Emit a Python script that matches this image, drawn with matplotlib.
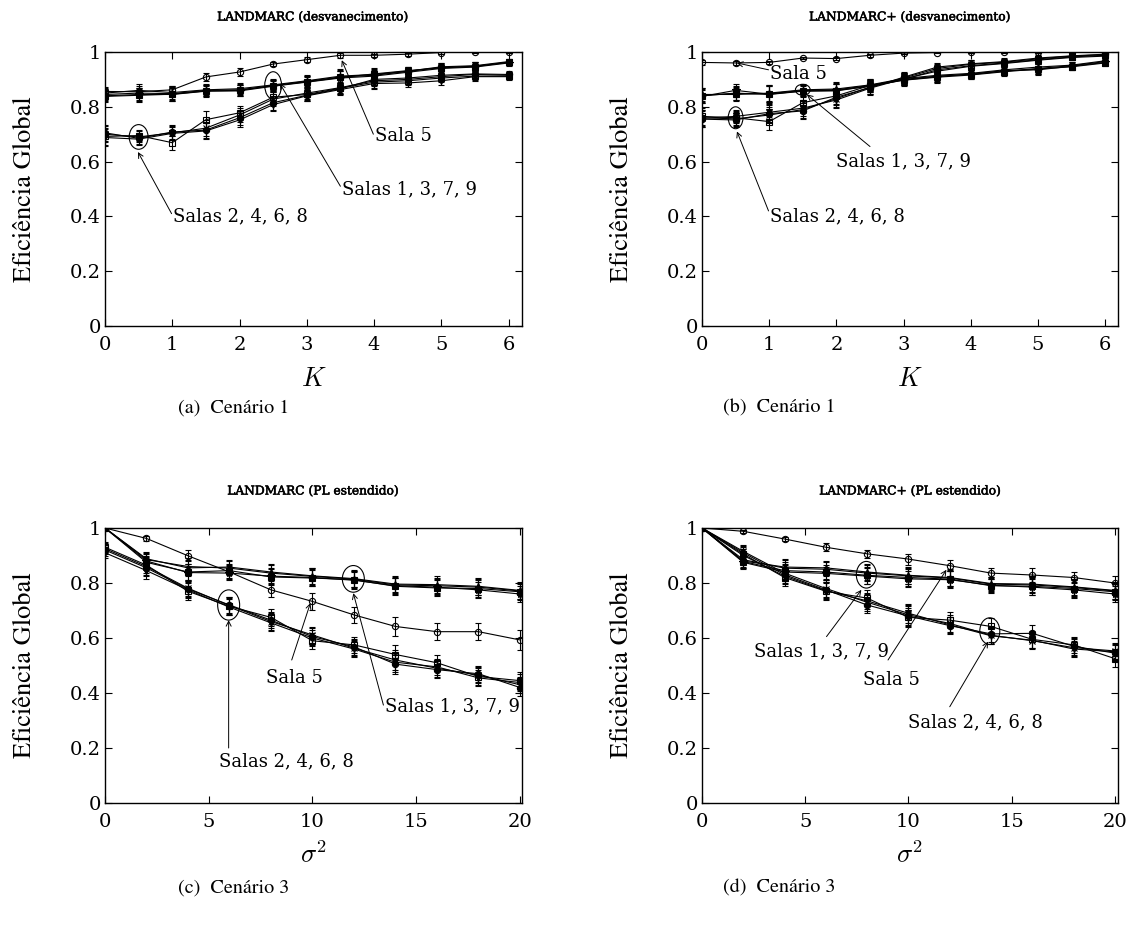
import matplotlib
matplotlib.use("Agg")
import matplotlib.pyplot as plt
from matplotlib.patches import Ellipse
import matplotlib.patheffects as pe

plt.rcParams["mathtext.fontset"] = "cm"
plt.rcParams["font.family"] = ["DejaVu Serif"]

# ---------------- data ----------------
K = [0, 0.5, 1, 1.5, 2, 2.5, 3, 3.5, 4, 4.5, 5, 5.5, 6]
sigma2 = [0, 2, 4, 6, 8, 10, 12, 14, 16, 18, 20]

# (a) LANDMARC, desvanecimento
a_centro = [0.856, 0.855, 0.862, 0.909, 0.927, 0.956, 0.972, 0.988, 0.988, 0.992, 0.998, 1.0, 1.0]
a_cantos = [
    [0.845, 0.850, 0.848, 0.860, 0.862, 0.878, 0.893, 0.909, 0.915, 0.929, 0.944, 0.948, 0.963],
    [0.840, 0.845, 0.845, 0.857, 0.858, 0.875, 0.890, 0.905, 0.912, 0.926, 0.940, 0.945, 0.960],
    [0.850, 0.860, 0.852, 0.862, 0.866, 0.880, 0.895, 0.912, 0.918, 0.930, 0.946, 0.950, 0.965],
    [0.838, 0.842, 0.846, 0.858, 0.860, 0.877, 0.891, 0.907, 0.920, 0.932, 0.942, 0.947, 0.962],
]
a_bordas = [
    [0.700, 0.690, 0.705, 0.722, 0.770, 0.828, 0.850, 0.870, 0.895, 0.900, 0.910, 0.918, 0.915],
    [0.692, 0.695, 0.669, 0.753, 0.778, 0.835, 0.845, 0.868, 0.890, 0.895, 0.905, 0.912, 0.912],
    [0.705, 0.685, 0.708, 0.715, 0.760, 0.815, 0.842, 0.866, 0.900, 0.905, 0.915, 0.920, 0.918],
    [0.688, 0.682, 0.703, 0.712, 0.752, 0.808, 0.840, 0.863, 0.885, 0.887, 0.895, 0.910, 0.910],
]
a_err_centro = [0.015, 0.010, 0.015, 0.015, 0.015, 0.008, 0.010, 0.010, 0.005, 0.005, 0.004, 0.003, 0.002]
a_err_cantos = [0.020, 0.025, 0.025, 0.020, 0.020, 0.020, 0.020, 0.025, 0.020, 0.015, 0.015, 0.015, 0.010]
a_err_bordas = [0.030, 0.020, 0.025, 0.030, 0.025, 0.025, 0.020, 0.020, 0.020, 0.015, 0.015, 0.015, 0.012]

# (b) LANDMARC+, desvanecimento
b_centro = [0.962, 0.960, 0.962, 0.978, 0.976, 0.988, 0.996, 0.998, 1.0, 0.999, 1.0, 1.0, 1.0]
b_cantos = [
    [0.842, 0.848, 0.848, 0.860, 0.862, 0.878, 0.900, 0.912, 0.918, 0.930, 0.940, 0.950, 0.965],
    [0.838, 0.860, 0.846, 0.858, 0.860, 0.875, 0.898, 0.910, 0.920, 0.932, 0.935, 0.948, 0.962],
    [0.845, 0.845, 0.850, 0.862, 0.865, 0.880, 0.903, 0.915, 0.922, 0.935, 0.945, 0.952, 0.968],
    [0.840, 0.850, 0.845, 0.857, 0.858, 0.876, 0.897, 0.908, 0.916, 0.928, 0.938, 0.946, 0.960],
]
b_bordas = [
    [0.760, 0.756, 0.770, 0.790, 0.830, 0.872, 0.905, 0.940, 0.955, 0.963, 0.975, 0.985, 0.990],
    [0.765, 0.760, 0.746, 0.815, 0.840, 0.878, 0.900, 0.935, 0.950, 0.960, 0.972, 0.982, 0.988],
    [0.755, 0.752, 0.775, 0.785, 0.835, 0.870, 0.908, 0.945, 0.957, 0.965, 0.978, 0.986, 0.992],
    [0.758, 0.765, 0.780, 0.795, 0.825, 0.868, 0.902, 0.930, 0.948, 0.958, 0.970, 0.980, 0.985],
]
b_err_centro = [0.008, 0.008, 0.005, 0.005, 0.005, 0.005, 0.004, 0.003, 0.002, 0.002, 0.002, 0.002, 0.002]
b_err_cantos = [0.025, 0.025, 0.030, 0.020, 0.025, 0.020, 0.020, 0.020, 0.015, 0.015, 0.020, 0.012, 0.010]
b_err_bordas = [0.030, 0.025, 0.030, 0.030, 0.030, 0.025, 0.020, 0.015, 0.015, 0.012, 0.012, 0.010, 0.010]

# (c) LANDMARC, PL estendido
c_centro = [1.0, 0.962, 0.899, 0.840, 0.775, 0.733, 0.684, 0.642, 0.623, 0.623, 0.593]
c_cantos = [
    [1.0, 0.885, 0.860, 0.854, 0.836, 0.824, 0.814, 0.793, 0.790, 0.785, 0.771],
    [1.0, 0.880, 0.838, 0.836, 0.825, 0.820, 0.810, 0.790, 0.785, 0.775, 0.760],
    [1.0, 0.888, 0.855, 0.858, 0.840, 0.826, 0.816, 0.796, 0.794, 0.788, 0.773],
    [1.0, 0.875, 0.840, 0.845, 0.822, 0.818, 0.812, 0.788, 0.782, 0.780, 0.768],
]
c_bordas = [
    [0.925, 0.860, 0.781, 0.718, 0.660, 0.611, 0.563, 0.520, 0.490, 0.465, 0.430],
    [0.930, 0.865, 0.770, 0.715, 0.675, 0.590, 0.575, 0.540, 0.510, 0.460, 0.445],
    [0.920, 0.855, 0.778, 0.720, 0.665, 0.605, 0.568, 0.505, 0.485, 0.470, 0.420],
    [0.910, 0.845, 0.775, 0.712, 0.655, 0.600, 0.560, 0.512, 0.495, 0.455, 0.438],
]
c_err_centro = [0.003, 0.008, 0.020, 0.025, 0.025, 0.030, 0.030, 0.035, 0.030, 0.030, 0.035]
c_err_cantos = [0.003, 0.025, 0.030, 0.025, 0.030, 0.030, 0.030, 0.030, 0.030, 0.030, 0.030]
c_err_bordas = [0.020, 0.030, 0.030, 0.030, 0.030, 0.030, 0.030, 0.035, 0.030, 0.030, 0.030]

# (d) LANDMARC+, PL estendido
d_centro = [1.0, 0.988, 0.960, 0.930, 0.906, 0.887, 0.863, 0.836, 0.829, 0.820, 0.800]
d_cantos = [
    [1.0, 0.885, 0.854, 0.850, 0.836, 0.826, 0.818, 0.796, 0.793, 0.784, 0.771],
    [1.0, 0.875, 0.840, 0.835, 0.825, 0.815, 0.812, 0.792, 0.785, 0.775, 0.760],
    [1.0, 0.880, 0.858, 0.855, 0.840, 0.828, 0.820, 0.798, 0.796, 0.786, 0.773],
    [1.0, 0.878, 0.845, 0.840, 0.828, 0.820, 0.814, 0.790, 0.788, 0.780, 0.768],
]
d_bordas = [
    [1.0, 0.915, 0.836, 0.780, 0.730, 0.684, 0.653, 0.610, 0.590, 0.565, 0.553],
    [1.0, 0.905, 0.820, 0.770, 0.745, 0.675, 0.665, 0.642, 0.595, 0.575, 0.525],
    [1.0, 0.910, 0.830, 0.775, 0.720, 0.680, 0.645, 0.615, 0.617, 0.570, 0.545],
    [1.0, 0.900, 0.825, 0.772, 0.735, 0.690, 0.648, 0.608, 0.592, 0.560, 0.550],
]
d_err_centro = [0.003, 0.006, 0.008, 0.015, 0.015, 0.020, 0.020, 0.020, 0.025, 0.020, 0.025]
d_err_cantos = [0.003, 0.025, 0.030, 0.025, 0.030, 0.030, 0.030, 0.025, 0.030, 0.030, 0.030]
d_err_bordas = [0.003, 0.025, 0.030, 0.030, 0.030, 0.035, 0.030, 0.030, 0.030, 0.030, 0.030]

titulos = ["LANDMARC (desvanecimento)", "LANDMARC+ (desvanecimento)",
           "LANDMARC (PL estendido)", "LANDMARC+ (PL estendido)"]
legendas = ["(a)  Cenário 1", "(b)  Cenário 1", "(c)  Cenário 3", "(d)  Cenário 3"]
rotulo_y = "Eficiência Global"
yticks = [0, 0.2, 0.4, 0.6, 0.8, 1]
yticklabels = ["0", "0.2", "0.4", "0.6", "0.8", "1"]

# marker styles per room group
mk_cantos = [("+", "none"), ("*", "k"), ("^", "k"), ("s", "k")]
mk_bordas = [("x", "none"), ("s", "none"), ("o", "k"), ("v", "k")]
mk_centro = ("o", "none")

W, H = 1132, 930
fig = plt.figure(figsize=(W / 100, H / 100), dpi=100)

def px_rect(l, t, r, b):
    return [l / W, 1 - b / H, (r - l) / W, (b - t) / H]

rects = [px_rect(105, 52, 522, 326), px_rect(702, 52, 1118, 326),
         px_rect(105, 528, 522, 803), px_rect(702, 528, 1118, 803)]

label_family = "STIXGeneral"


def draw_series(ax, x, y, err, marker, fc):
    ax.errorbar(x, y, yerr=err, color="k", lw=0.8, elinewidth=0.8, capsize=2.2,
                capthick=0.8, marker=marker, ms=4.5 if marker != "*" else 6,
                mfc=fc, mec="k", mew=0.8)


def draw_panel(ax, x, centro, cantos, bordas, ec, ek, eb):
    for serie, (m, fc) in zip(cantos, mk_cantos):
        draw_series(ax, x, serie, ek, m, fc)
    for serie, (m, fc) in zip(bordas, mk_bordas):
        draw_series(ax, x, serie, eb, m, fc)
    draw_series(ax, x, centro, ec, mk_centro[0], mk_centro[1])


def style_axes(ax, xmax, xticks):
    ax.set_xlim(0, xmax)
    ax.set_ylim(0, 1)
    ax.set_xticks(xticks)
    ax.set_xticklabels([f"{t:g}" for t in xticks])
    ax.set_yticks(yticks)
    ax.set_yticklabels(yticklabels)
    ax.tick_params(direction="in", top=True, right=True, length=5, width=0.8,
                   labelsize=14)
    ax.tick_params(axis="x", pad=7)
    ax.tick_params(axis="y", pad=3)
    for s in ax.spines.values():
        s.set_linewidth(1.0)
    ax.set_ylabel(rotulo_y, fontsize=19, family=label_family)
    ax.yaxis.set_label_coords(-0.163, 0.5)


def ellipse(ax, cx, cy, w, h):
    ax.add_patch(Ellipse((cx, cy), w, h, fill=False, ec="k", lw=0.8, zorder=5))


def label_arrow(ax, text, xt, yt, xa, ya, xs, ys):
    ax.annotate("", xy=(xa, ya), xytext=(xs, ys),
                arrowprops=dict(arrowstyle="->", lw=0.7, color="k",
                                shrinkA=0, shrinkB=0, mutation_scale=9))
    ax.text(xt, yt, text, fontsize=13, ha="left", va="center")


axes = [fig.add_axes(r) for r in rects]

# (a)
ax = axes[0]
draw_panel(ax, K, a_centro, a_cantos, a_bordas, a_err_centro, a_err_cantos, a_err_bordas)
style_axes(ax, 6.2, [0, 1, 2, 3, 4, 5, 6])
ellipse(ax, 0.5, 0.69, 0.28, 0.09)
ellipse(ax, 2.5, 0.878, 0.25, 0.10)
label_arrow(ax, "Salas 2, 4, 6, 8", 1.01, 0.40, 0.49, 0.635, 0.99, 0.41)
label_arrow(ax, "Salas 1, 3, 7, 9", 3.52, 0.50, 2.6, 0.885, 3.50, 0.51)
label_arrow(ax, "Sala 5", 4.01, 0.695, 3.52, 0.97, 3.99, 0.70)

# (b)
ax = axes[1]
draw_panel(ax, K, b_centro, b_cantos, b_bordas, b_err_centro, b_err_cantos, b_err_bordas)
style_axes(ax, 6.19, [0, 1, 2, 3, 4, 5, 6])
ellipse(ax, 0.5, 0.76, 0.22, 0.08)
ellipse(ax, 1.5, 0.862, 0.22, 0.04)
label_arrow(ax, "Sala 5", 1.01, 0.92, 0.52, 0.96, 0.99, 0.935)
label_arrow(ax, "Salas 1, 3, 7, 9", 2.0, 0.60, 1.56, 0.845, 2.5, 0.655)
label_arrow(ax, "Salas 2, 4, 6, 8", 1.01, 0.40, 0.52, 0.71, 0.99, 0.42)

# (c)
ax = axes[2]
draw_panel(ax, sigma2, c_centro, c_cantos, c_bordas, c_err_centro, c_err_cantos, c_err_bordas)
style_axes(ax, 20.1, [0, 5, 10, 15, 20])
ellipse(ax, 5.96, 0.72, 1.06, 0.11)
ellipse(ax, 11.97, 0.815, 1.06, 0.097)
label_arrow(ax, "Salas 2, 4, 6, 8", 5.5, 0.15, 5.96, 0.665, 5.96, 0.20)
label_arrow(ax, "Sala 5", 7.78, 0.453, 9.9, 0.727, 9.0, 0.52)
label_arrow(ax, "Salas 1, 3, 7, 9", 13.5, 0.35, 11.97, 0.763, 13.42, 0.356)

# (d)
ax = axes[3]
draw_panel(ax, sigma2, d_centro, d_cantos, d_bordas, d_err_centro, d_err_cantos, d_err_bordas)
style_axes(ax, 20.15, [0, 5, 10, 15, 20])
ellipse(ax, 7.96, 0.83, 0.97, 0.097)
ellipse(ax, 13.94, 0.625, 0.97, 0.097)
label_arrow(ax, "Salas 1, 3, 7, 9", 2.5, 0.55, 7.72, 0.775, 6.03, 0.605)
label_arrow(ax, "Sala 5", 7.8, 0.447, 11.84, 0.848, 9.01, 0.52)
label_arrow(ax, "Salas 2, 4, 6, 8", 9.98, 0.295, 13.86, 0.587, 12.0, 0.35)

# axis titles
for ax, lab in zip(axes, [r"$K$", r"$K$", r"$\sigma^2$", r"$\sigma^2$"]):
    ax.set_xlabel(lab, fontsize=19)
    ax.xaxis.set_label_coords(0.5, -0.19)
    ax.xaxis.label.set_verticalalignment("center")

# panel titles and captions
for t, (cx, ty) in zip(titulos, [(313, 17), (910, 17), (313, 491), (910, 491)]):
    fig.text(cx / W, 1 - ty / H, t, ha="center", va="center", fontsize=8.8,
             path_effects=[pe.withStroke(linewidth=0.4, foreground="k")])

for lab, (cx, cy) in zip(legendas, [(234, 408), (779, 408), (234, 888), (779, 888)]):
    fig.text(cx / W, 1 - cy / H, lab, ha="center", va="center", fontsize=14.5,
             family=label_family)

fig.savefig("out.png", dpi=100)
